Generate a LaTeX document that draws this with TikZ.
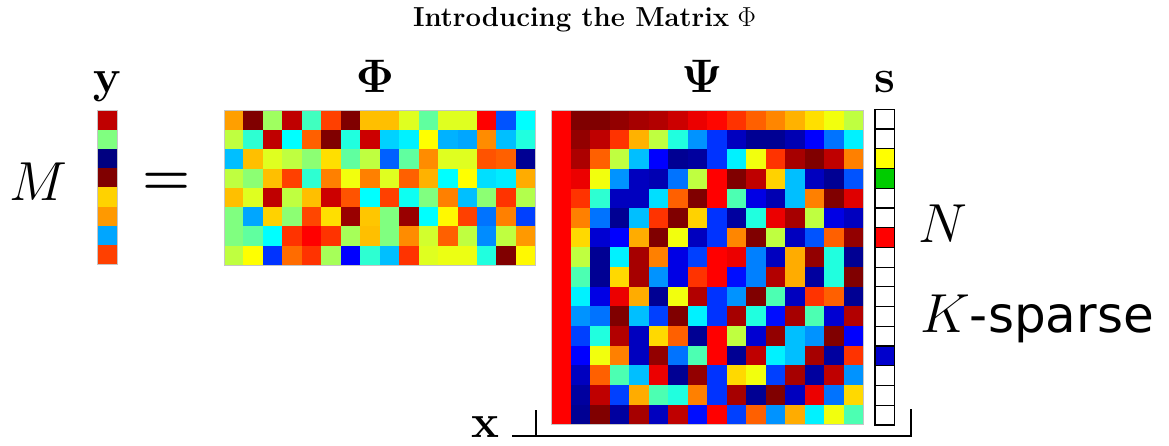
\RequirePackage{fix-cm}
\documentclass[tikz,border=0pt]{standalone}
\usepackage[no-math]{fontspec}
\newfontfamily\sparsefont{DejaVu Sans}
\usepackage{xcolor}
\usepackage{tikz}
\usetikzlibrary{positioning}

\definecolor{sYellow}{rgb}{1,1,0}
\definecolor{sGreen}{rgb}{0,0.8,0}
\definecolor{sRed}{rgb}{1,0,0}
\definecolor{sBlue}{rgb}{0,0,0.8}

% jet colour of a value between 0 and 16
\newcommand{\jetcolor}[1]{%
  \pgfmathsetmacro{\jr}{max(0,min(1,1.5-abs(#1/4-3)))}%
  \pgfmathsetmacro{\jg}{max(0,min(1,1.5-abs(#1/4-2)))}%
  \pgfmathsetmacro{\jb}{max(0,min(1,1.5-abs(#1/4-1)))}%
  \definecolor{jet}{rgb}{\jr,\jg,\jb}}

% grid of jet cells: x0, y0, cell width, cell height, rows
\newcommand{\jetgrid}[5]{%
  \foreach \row [count=\i] in {#5} {
    \foreach \v [count=\j] in \row {
      \jetcolor{\v}
      \fill[jet] ({#1+(\j-1)*#3},{#2+(\i-1)*#4}) rectangle ++(#3,#4);
    }
  }}

\begin{document}
\begin{tikzpicture}[
  x=1pt, y=-1pt,
  frame/.style={draw=gray!45, line width=0.8pt},
  scell/.style={draw=black, line width=1.2pt},
  brk/.style={draw=black, line width=1.8pt},
  title/.style={font=\fontsize{27.5}{32}\selectfont, anchor=base, inner sep=0pt},
  vecname/.style={font=\fontsize{47}{50}\selectfont, anchor=base, inner sep=0pt},
  sym/.style={font=\fontsize{55}{60}\selectfont, anchor=base, inner sep=0pt}
]
\useasboundingbox (0,0) rectangle (1169,445);

\node[title] (head) at (584.5,26.5) {\textbf{Introducing the Matrix} $\Phi$};

% measurement vector y
\jetgrid{97.3}{110.7}{20}{19.17}{15,8,0,16,10.7,11.6,4.6,13}
\draw[frame] (97.3,110.7) rectangle (117.3,264.1);

% sensing matrix Phi
\jetgrid{224}{110.7}{19.46}{19.29}{
  {11.5,16,8.5,15,7,13,16,11,11,9.5,7.5,9.5,9.5,14,3.3,6},
  {9,6.7,15,6,12.5,16,6.5,14.8,5.3,5.8,10,4.8,4.6,11.8,5,6.5},
  {5,11,9.5,9,8.2,10.5,7.5,9,3.5,7.5,11.8,9.5,9.5,12.7,12.5,0.3},
  {9,8.2,11,13,6.7,12,9.8,12,9.5,12.5,11.2,6,10,5.5,5.7,11.3},
  {11,9.5,15,9,11,14.8,12.7,6,13,6.2,8,12,5,8.2,13.2,8.8},
  {8,4.6,10.7,8.2,12.9,10.5,15.6,10.9,8,15.6,6,10.1,13,3.8,12,3},
  {8,7.5,6,13.2,14,13.2,8.6,11,8,11.8,9.3,12.5,9,4.2,9,11.6},
  {9,10,2.8,12.3,13.2,8.6,2,6.7,5,13.2,9.5,9.7,9.7,6.5,16,10.1}}
\draw[frame] (224,110.7) rectangle (535.4,265);

% basis Psi
\jetgrid{551}{110}{19.52}{19.64}{
  {14,16,16,15.7,15.4,15.2,14.8,14.3,13.9,13.2,12.5,11.9,11.2,10.5,9.8,9},
  {14,15.7,15,13.2,11.2,9,6.5,4.3,2.8,1,0.3,0.3,0.8,2,3.8,5.8},
  {14,15.3,12.5,9,5,2,0.3,0.5,2.8,5.8,9.8,13.2,15.4,16,15,12},
  {14,14.3,9.8,4.3,1,0.8,3.8,9,14,16,15,10.7,5,1,0.3,3.3},
  {14,13.2,6.7,1,1,5.5,12.5,16,14,7.2,1.6,0.8,5,12,16,14.5},
  {14,12,3.8,0.3,5,13.2,16,10.7,2.8,0.5,6.5,14.3,15.4,9,1.6,1},
  {14,10.6,1.3,2,11.3,16,9.8,1,2.8,11.9,16,9,1,3.3,12.5,15.7},
  {14,9,0.3,5.8,15.4,12,1.6,3,14,14.3,4,1,11.3,15.7,6.5,0.3},
  {14,7.2,0.3,10.6,15.4,4.3,1.6,13.2,14,2.2,4,15.2,11.3,0.5,6.5,16},
  {14,5.8,1.6,14.3,11.3,0.3,9.8,15.2,2.8,4.3,16,7.2,1,13.2,12.5,0.3},
  {14,4.3,3.8,16,5,3,16,5.8,2.8,15.4,6.5,2.2,15.4,7.2,1.3,15.2},
  {14,3,6.5,15.2,1,10.6,12.5,0.3,14,9,1.3,15.7,5,4.3,16,2},
  {14,2,9.8,12,1,15.7,3.8,7.2,14,0.3,15,5.8,5,15.4,0.5,13.2},
  {14,1,12.5,7.2,5,14.3,0.3,15.7,2.8,10.6,9.8,3,15.4,0.5,15,4.3},
  {14,0.5,15,3,11.3,7.2,6.5,12,2.8,15.4,0.3,16,1,14.3,3.8,10.6},
  {14,0.3,16,0.5,15.4,1,15,2.2,14,3,12.5,4.3,11.3,5.8,9.8,7.2}}
\draw[frame] (551,110) rectangle (863.3,424.3);

% sparse vector s
\foreach \c [count=\i] in {white,white,sYellow,sGreen,white,white,sRed,white,
                           white,white,white,white,sBlue,white,white,white}
  \filldraw[scell, fill=\c] (875,{109.3+(\i-1)*19.73}) rectangle ++(19.3,19.73);

% labels
\node[vecname] (ylab)   at (107.3,92) {$\mathbf{y}$};
\node[vecname] (philab) at (375,92)   {$\mathbf{\Phi}$};
\node[vecname] (psilab) at (702,92)   {$\mathbf{\Psi}$};
\node[vecname] (slab)   at (884.6,92) {$\mathbf{s}$};
\node[vecname] (xlab)   at (485,437)  {$\mathbf{x}$};

\node[sym] (mlab) at (38.5,200)   {$M$};
\node[sym] (eq)   at (167,194.5)  {\textbf{=}};
\node[sym] (nlab) at (943,242.7)  {$N$};
\node[sym, anchor=base west] (klab) at (920,332)
  {$K${\sparsefont\fontsize{50}{54}\selectfont -sparse}};

% bracket under x
\draw[brk] (512,436) -- (910.7,436) -- (910.7,409);
\draw[brk] (536,436) -- (536,410);
\end{tikzpicture}
\end{document}
